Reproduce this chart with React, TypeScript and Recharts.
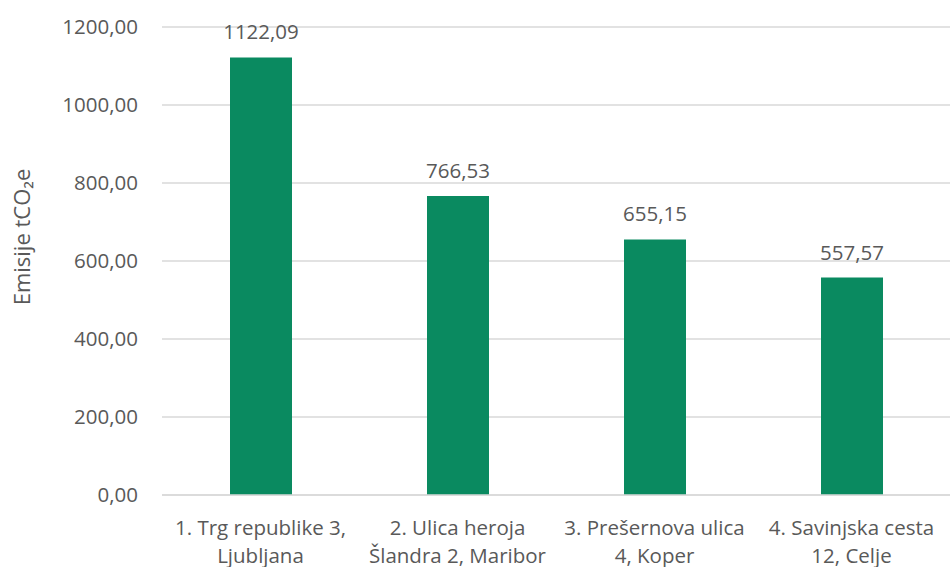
import React from "react";
import { BarChart, Bar, XAxis, YAxis, CartesianGrid, LabelList } from "recharts";

const categories = [
  "1. Trg republike 3,\nLjubljana",
  "2. Ulica heroja\nŠlandra 2, Maribor",
  "3. Prešernova ulica\n4, Koper",
  "4. Savinjska cesta\n12, Celje",
];
const emissions = [1122.09, 766.53, 655.15, 557.57];
const yTicks = [0, 200, 400, 600, 800, 1000, 1200];
const yAxisTitle = "Emisije tCO₂e";

const data = categories.map((c, i) => ({ name: c, value: emissions[i] }));

const FONT = "'Open Sans', sans-serif";
const TEXT = "#595959";
const FS = 20.5;
const fmt = (v: number) => v.toFixed(2).replace(".", ",");

const XTick = (props: any) => {
  const { x, y, payload } = props;
  const lines = String(payload.value).split("\n");
  return (
    <g>
      {lines.map((l: string, i: number) => (
        <text key={i} x={x} y={y + 32 + i * 28} textAnchor="middle" fill={TEXT} fontSize={FS} fontFamily={FONT}>
          {l}
        </text>
      ))}
    </g>
  );
};

const YTitle = () => (
  <text
    x={0}
    y={0}
    transform="translate(30, 237) rotate(-90)"
    textAnchor="middle"
    fill={TEXT}
    fontSize={22}
    fontFamily={FONT}
  >
    {yAxisTitle}
  </text>
);

export default function App() {
  return (
    <div style={{ position: "absolute", left: 0, top: 0, width: 950, height: 567, background: "#fff" }}>
      <BarChart width={950} height={567} data={data} margin={{ top: 27, right: 0, bottom: 0, left: 0 }}>
        <CartesianGrid vertical={false} stroke="#d9d9d9" strokeWidth={1.5} />
        <XAxis
          dataKey="name"
          axisLine={{ stroke: "#d9d9d9", strokeWidth: 1.5 }}
          tickLine={false}
          height={72}
          tick={<XTick />}
          interval={0}
        />
        <YAxis
          width={162}
          domain={[0, 1200]}
          ticks={yTicks}
          tickFormatter={fmt}
          axisLine={false}
          tickLine={false}
          tickSize={0}
          tickMargin={24}
          tick={{ fill: TEXT, fontSize: FS, fontFamily: FONT }}
          label={<YTitle />}
        />
        <Bar dataKey="value" fill="#0a8a60" barSize={62} isAnimationActive={false}>
          <LabelList dataKey="value" position="top" offset={18} formatter={fmt as any} fill={TEXT} fontSize={FS} fontFamily={FONT} />
        </Bar>
      </BarChart>
    </div>
  );
}
